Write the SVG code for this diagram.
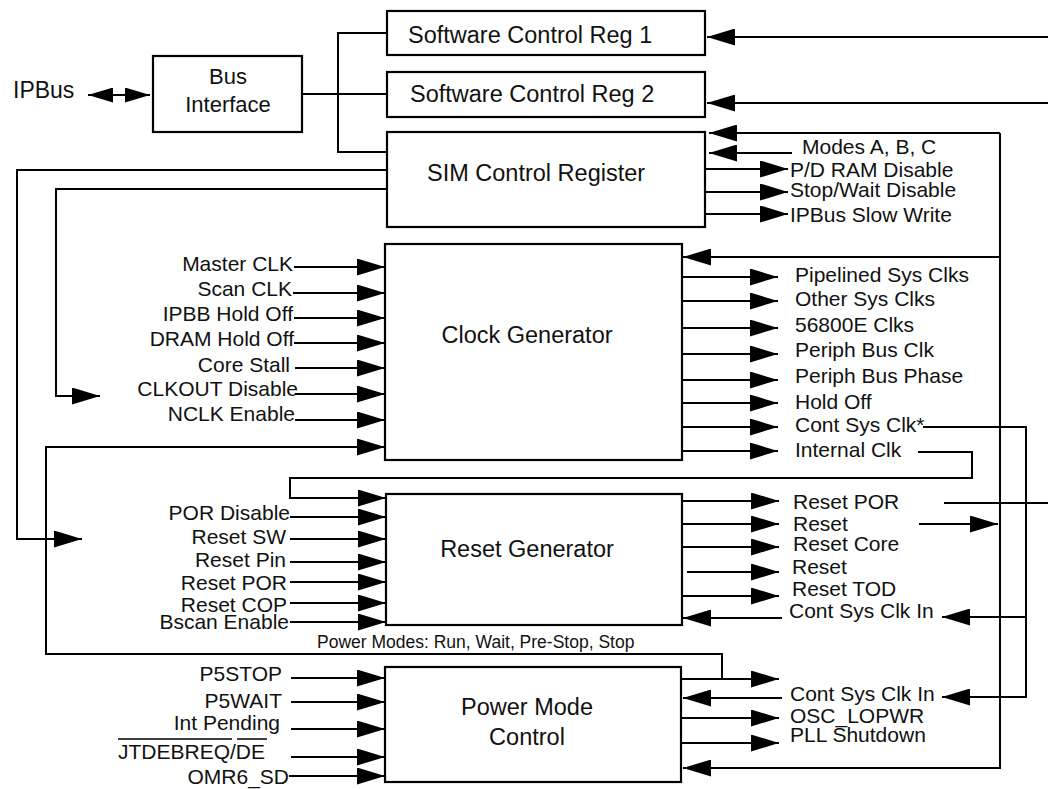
<svg xmlns="http://www.w3.org/2000/svg" width="1048" height="789" viewBox="0 0 1048 789">
<defs>
<marker id="ah" markerUnits="userSpaceOnUse" markerWidth="29" markerHeight="17" refX="28" refY="8.5" orient="auto"><path d="M0,0 L28,8.5 L0,17 z" fill="#000"/></marker>
<marker id="sm" markerUnits="userSpaceOnUse" markerWidth="26" markerHeight="15" refX="25" refY="7.5" orient="auto-start-reverse"><path d="M0,0 L25,7.5 L0,15 z" fill="#000"/></marker>
</defs>
<style>
.box{fill:#fff;stroke:#000;stroke-width:2.2}
.c path{fill:none;stroke:#000;stroke-width:2}
.a{marker-end:url(#ah)}
text{font-family:"Liberation Sans",Arial,sans-serif;fill:#111}
.t{font-size:23.5px}
.l{font-size:21px}
.e{text-anchor:end}
.m{text-anchor:middle}
</style>
<rect width="1048" height="789" fill="#fff"/>
<g id="connectors" class="c">
<path d="M88,95 H150" style="marker-start:url(#sm);marker-end:url(#sm)"/>
<path d="M302,94 H387"/>
<path d="M387,33 H338 V152 H387"/>
<path class="a" d="M387,170 H17 V539 H82"/>
<path class="a" d="M387,189 H56 V396 H100"/>
<path class="a" d="M1048,37 H707"/>
<path class="a" d="M1048,103 H707"/>
<path class="a" d="M1000,133 H709"/>
<path class="a" d="M1000,133 V768 H683"/>
<path class="a" d="M792,153 H709"/>
<path class="a" d="M705,169 H788"/>
<path class="a" d="M705,192 H788"/>
<path class="a" d="M705,214 H788"/>
<path class="a" d="M294,267 H385"/>
<path class="a" d="M293,293 H385"/>
<path class="a" d="M294,318 H385"/>
<path class="a" d="M294,343 H385"/>
<path class="a" d="M295,368 H385"/>
<path class="a" d="M295,394 H385"/>
<path class="a" d="M295,420 H385"/>
<path class="a" d="M722,679 V654 H46 V447 H385"/>
<path class="a" d="M1000,257 H683"/>
<path class="a" d="M682,277 H778"/>
<path class="a" d="M682,301 H778"/>
<path class="a" d="M682,328 H778"/>
<path class="a" d="M682,354 H778"/>
<path class="a" d="M682,380 H778"/>
<path class="a" d="M682,403 H778"/>
<path class="a" d="M682,427 H778"/>
<path class="a" d="M682,451 H778"/>
<path class="a" d="M923,427 H1026 V697 H942"/>
<path class="a" d="M1026,617 H942"/>
<path class="a" d="M918,452 H972 V478 H290 V498 H386"/>
<path class="a" d="M290,517 H386"/>
<path class="a" d="M290,539 H386"/>
<path class="a" d="M290,562 H386"/>
<path class="a" d="M290,582 H386"/>
<path class="a" d="M290,603 H386"/>
<path class="a" d="M290,622 H386"/>
<path class="a" d="M682,501 H779"/>
<path d="M944,503 H1048"/>
<path class="a" d="M682,524 H779"/>
<path class="a" d="M919,524 H998"/>
<path class="a" d="M682,547 H779"/>
<path class="a" d="M687,572 H779"/>
<path class="a" d="M682,596 H779"/>
<path class="a" d="M782,618 H683"/>
<path class="a" d="M291,678 H385"/>
<path class="a" d="M291,702 H385"/>
<path class="a" d="M291,729 H385"/>
<path class="a" d="M291,757 H385"/>
<path class="a" d="M289,776 H385"/>
<path class="a" d="M681,679 H779"/>
<path class="a" d="M782,698 H683"/>
<path class="a" d="M681,718 H779"/>
<path class="a" d="M681,743 H779"/>
</g>
<g id="ipbus"><text x="13" y="98" style="font-size:23px">IPBus</text></g>
<g id="bus-interface"><rect class="box" x="153" y="56" width="149" height="76"/><text class="m" x="228" y="84" style="font-size:22px">Bus</text><text class="m" x="228" y="112" style="font-size:22px">Interface</text></g>
<g id="sw-reg-1"><rect class="box" x="387" y="11" width="318" height="44"/><text class="t" x="408" y="43">Software Control Reg 1</text></g>
<g id="sw-reg-2"><rect class="box" x="387" y="72" width="318" height="45"/><text class="t" x="410" y="102">Software Control Reg 2</text></g>
<g id="sim-control"><rect class="box" x="387" y="132" width="318" height="95"/><text class="t" x="427" y="181">SIM Control Register</text></g>
<g id="clock-gen"><rect class="box" x="385" y="244" width="297" height="216"/><text class="t m" x="527" y="343">Clock Generator</text></g>
<g id="reset-gen"><rect class="box" x="386" y="494" width="296" height="131"/><text class="t m" x="527" y="557">Reset Generator</text></g>
<g id="power-mode"><rect class="box" x="385" y="667" width="296" height="115"/><text class="t m" x="527" y="715">Power Mode</text><text class="t m" x="527" y="745">Control</text></g>
<g id="sim-labels" class="l">
<text x="802" y="154">Modes A, B, C</text>
<text x="790" y="177">P/D RAM Disable</text>
<text x="790" y="197">Stop/Wait Disable</text>
<text x="790" y="222">IPBus Slow Write</text>
</g>
<g id="clock-in-labels" class="l e">
<text x="293" y="271">Master CLK</text>
<text x="292" y="296">Scan CLK</text>
<text x="293" y="321">IPBB Hold Off</text>
<text x="294" y="346">DRAM Hold Off</text>
<text x="290" y="372">Core Stall</text>
<text x="298" y="396">CLKOUT Disable</text>
<text x="295" y="421">NCLK Enable</text>
</g>
<g id="clock-out-labels" class="l">
<text x="795" y="282">Pipelined Sys Clks</text>
<text x="795" y="306">Other Sys Clks</text>
<text x="795" y="332">56800E Clks</text>
<text x="795" y="357">Periph Bus Clk</text>
<text x="795" y="383">Periph Bus Phase</text>
<text x="795" y="409">Hold Off</text>
<text x="795" y="432">Cont Sys Clk*</text>
<text x="795" y="457">Internal Clk</text>
</g>
<g id="reset-in-labels" class="l e">
<text x="290" y="520">POR Disable</text>
<text x="286" y="544">Reset SW</text>
<text x="286" y="567">Reset Pin</text>
<text x="287" y="590">Reset POR</text>
<text x="287" y="612">Reset COP</text>
<text x="289" y="629">Bscan Enable</text>
</g>
<g id="reset-out-labels" class="l">
<text x="793" y="509">Reset POR</text>
<text x="793" y="531">Reset</text>
<text x="793" y="551">Reset Core</text>
<text x="792" y="574">Reset</text>
<text x="792" y="596">Reset TOD</text>
<text x="789" y="618">Cont Sys Clk In</text>
</g>
<g id="power-modes-label"><text x="317" y="648" style="font-size:17.5px">Power Modes: Run, Wait, Pre-Stop, Stop</text></g>
<g id="power-in-labels" class="l e">
<text x="282" y="681">P5STOP</text>
<text x="282" y="708">P5WAIT</text>
<text x="280" y="730">Int Pending</text>
<text x="265" y="759">JTDEBREQ/DE</text>
<text x="289" y="784">OMR6_SD</text>
<path d="M118,739 H232 M237,739 H267" stroke="#000" stroke-width="1.5" fill="none"/>
</g>
<g id="power-out-labels" class="l">
<text x="790" y="701">Cont Sys Clk In</text>
<text x="790" y="723">OSC_LOPWR</text>
<text x="790" y="742">PLL Shutdown</text>
</g>
</svg>
